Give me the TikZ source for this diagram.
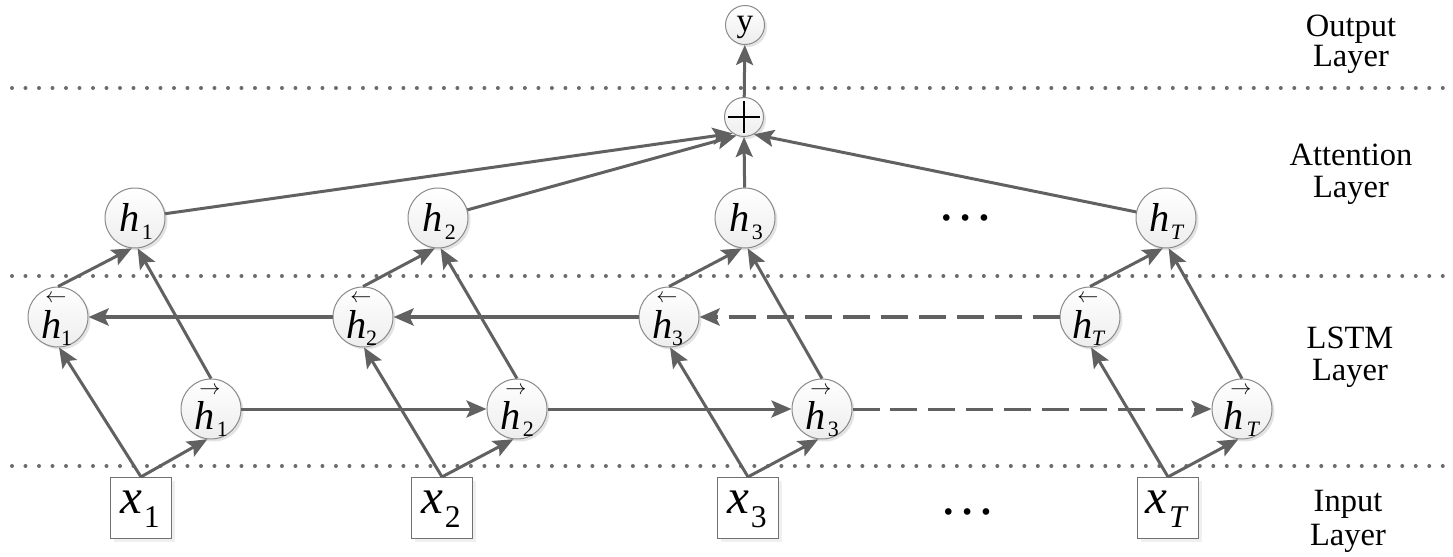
\documentclass[tikz,border=0pt]{standalone}
\usepackage{fontspec}
\setmainfont{LiberationSerif}[Extension=.ttf,UprightFont=*-Regular,ItalicFont=*-Italic,BoldFont=*-Bold,BoldItalicFont=*-BoldItalic]
\usetikzlibrary{arrows.meta,shadows,calc}
\definecolor{lc}{HTML}{616161}
\definecolor{bc}{HTML}{8A8A8A}
\newcommand{\hlab}[2]{{\fontsize{23}{23}\selectfont\itshape h}\kern#2{\fontsize{12.5}{12.5}\selectfont\raisebox{-4.5pt}{#1}}}
\newcommand{\xlab}[1]{{\fontsize{28}{28}\selectfont\itshape x}\kern1pt{\fontsize{18}{18}\selectfont\raisebox{-8.5pt}{#1}}}
\newcommand{\arl}{{\fontsize{12}{12}\selectfont$\leftarrow$}}
\newcommand{\arr}{{\fontsize{12}{12}\selectfont$\rightarrow$}}
\begin{document}
\begin{tikzpicture}[x=0.02cm,y=-0.02cm,
  neuron/.style={circle, draw=bc, line width=0.02cm, minimum size=1.2cm, inner sep=0pt,
     top color=white, bottom color=gray!14,
     drop shadow={shadow xshift=0.05cm, shadow yshift=-0.05cm, opacity=0.22, fill=gray}},
  small/.style={neuron, minimum size=0.78cm},
  inbox/.style={rectangle, draw=lc!90, line width=0.025cm, minimum size=1.22cm, inner sep=0pt, fill=white,
     drop shadow={shadow xshift=0.07cm, shadow yshift=-0.07cm, opacity=0.12, fill=gray}},
  tip/.style={-{Stealth[length=0.4cm,width=0.34cm,inset=0.08cm]}},
  conn/.style={draw=lc, line width=0.06cm, tip, line join=round},
  thin/.style={draw=lc, line width=0.06cm, tip},
  thick/.style={draw=lc, line width=0.08cm, tip},
  dsh/.style={dash pattern=on 0.54cm off 0.22cm},
  dotline/.style={draw=gray!85!black, line width=0.08cm, line cap=round, dash pattern=on 0pt off 0.27cm},
  lay/.style={anchor=base, inner sep=0pt, font=\fontsize{18.5}{18.5}\selectfont},
  dots/.style={inner sep=0pt, font=\fontsize{32}{32}\selectfont}
]
\useasboundingbox (0,0) rectangle (1453,557);

% separators
\draw[dotline] (12,88) -- (1453,88);
\draw[dotline] (12,276) -- (1453,276);
\draw[dotline] (12,466) -- (1453,466);

% layer labels
\node[lay] (l1a) at (1351,37) {Output};
\node[lay] (l1b) at (1351,67) {Layer};
\node[lay] (l2a) at (1351,166) {Attention};
\node[lay] (l2b) at (1351,197) {Layer};
\node[lay] (l3a) at (1350,348) {LSTM};
\node[lay] (l3b) at (1350,380) {Layer};
\node[lay] (l4a) at (1348,511) {Input};
\node[lay] (l4b) at (1348,545) {Layer};

% output and attention sum
\node[small] (y) at (745,25) {};
\node[inner sep=0pt, anchor=base, font=\fontsize{19}{19}\selectfont] (ytxt) at (745,32) {y};
\node[small, path picture={
   \draw[black, line width=0.055cm] ($(path picture bounding box.center)+(-16,0)$) -- ($(path picture bounding box.center)+(16,0)$);
   \draw[black, line width=0.055cm] ($(path picture bounding box.center)+(0,-16)$) -- ($(path picture bounding box.center)+(0,16)$);
 }] (plus) at (744,117) {};

% attention nodes
\node[neuron] (h1) at (135,218) {};
\node[neuron] (h2) at (438,218) {};
\node[neuron] (h3) at (745,218) {};
\node[neuron] (hT) at (1166,218) {};
\foreach \n/\s in {1/1,2/2,3/3}{
  \node[anchor=base, inner sep=0pt] (th\n) at ($(h\n)+(1,14)$) {\hlab{\s}{1.5pt}};
}
\node[anchor=base, inner sep=0pt] (thT) at ($(hT)+(1,14)$) {\hlab{\textit{T}}{0.5pt}};
\node[dots] (d1) at (966,218) {…};

% backward LSTM
\node[neuron] (b1) at (58,317) {};
\node[neuron] (b2) at (363,317) {};
\node[neuron] (b3) at (669,317) {};
\node[neuron] (bT) at (1090,317) {};
% forward LSTM
\node[neuron] (f1) at (211,409) {};
\node[neuron] (f2) at (517,409) {};
\node[neuron] (f3) at (822,409) {};
\node[neuron] (fT) at (1242,409) {};
\foreach \n/\s in {1/1,2/2,3/3,T/\textit{T}}{
  \node[anchor=base, inner sep=0pt] (tb\n) at ($(b\n)+(-1,21)$) {\hlab{\s}{-0.5pt}};
  \node[inner sep=0pt] (ab\n) at ($(b\n)+(-2,-18)$) {\arl};
  \node[anchor=base, inner sep=0pt] (tf\n) at ($(f\n)+(0,20)$) {\hlab{\s}{1.5pt}};
  \node[inner sep=0pt] (af\n) at ($(f\n)+(-1,-18)$) {\arr};
}

% inputs
\node[inbox] (x1) at (141,508) {};
\node[inbox] (x2) at (442,508) {};
\node[inbox] (x3) at (748,508) {};
\node[inbox] (xT) at (1168,508) {};
\foreach \n/\s in {1/1,2/2,3/3,T/\textit{T}}{
  \node[anchor=base, inner sep=0pt] (tx\n) at ($(x\n)+(-1,5)$) {\xlab{\s}};
}
\node[dots] (d2) at (968,512) {…};

% connections within columns
\foreach \n in {1,2,3,T}{
  \draw[conn] (x\n.north) -- (b\n.272);
  \draw[conn] (x\n.north) -- (f\n.263);
  \draw[conn] (b\n.north) -- (h\n.264);
  \draw[conn] (f\n.north) -- (h\n.275);
}

% recurrent connections
\draw[thick] (b2) -- (b1);
\draw[thick] (b3) -- (b2);
\draw[thick, dsh] (bT) -- (b3);
\draw[thin] (f1) -- (f2);
\draw[thin] (f2) -- (f3);
\draw[thin, dsh] (f3) -- (fT);

% attention
\draw[conn] (h1) -- (plus.235);
\draw[conn] (h2) -- (plus.248);
\draw[conn] (h3) -- (plus.south);
\draw[conn] (hT) -- (plus.300);
\draw[conn] (plus) -- (y);
\end{tikzpicture}
\end{document}
